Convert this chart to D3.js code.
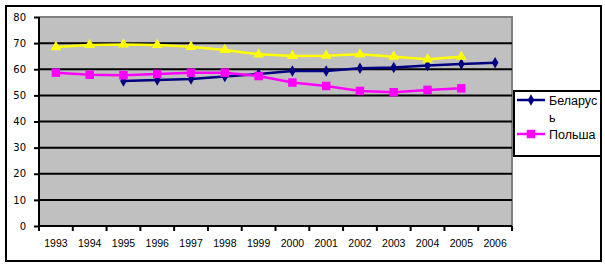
<!DOCTYPE html>
<html>
<head>
<meta charset="utf-8">
<script src="https://cdn.jsdelivr.net/npm/d3@7"></script>
<style>
  body { margin: 0; background: #fff; }
  svg { display: block; }
</style>
</head>
<body>
<svg id="chart" width="605" height="266"></svg>
<script>
// Values.
const years = ['1993', '1994', '1995', '1996', '1997', '1998', '1999',
  '2000', '2001', '2002', '2003', '2004', '2005', '2006'];
const belarus = [null, null, 55.5, 55.9, 56.3, 57.2, 58.2, 59.3, 59.3, 60.4, 60.7, 61.4, 62.0, 62.5];
const poland = [58.7, 57.9, 57.7, 58.2, 58.7, 58.7, 57.4, 54.9, 53.6, 51.7, 51.2, 52.1, 52.7, null];
const third = [68.5, 69.3, 69.5, 69.3, 68.6, 67.4, 65.7, 65.1, 65.2, 65.7, 64.8, 63.8, 64.8, null];
const yTicks = [0, 10, 20, 30, 40, 50, 60, 70, 80];
const legendNames = ['Беларусь', 'Польша'];

const svg = d3.select('#chart');
const plot = { left: 39, right: 512, top: 17, bottom: 226 };

// outer frame
svg.append('rect')
  .attr('x', 6).attr('y', 6).attr('width', 595).attr('height', 255)
  .attr('fill', '#fff').attr('stroke', '#000').attr('stroke-width', 2);

const x = d3.scaleBand().domain(years).range([plot.left, plot.right]).padding(0);
const y = d3.scaleLinear().domain([0, 80]).range([plot.bottom, plot.top]);
const cx = (d) => x(d) + x.bandwidth() / 2;

// plot background + grey border (top / right)
svg.append('rect')
  .attr('x', plot.left).attr('y', plot.top)
  .attr('width', plot.right - plot.left).attr('height', plot.bottom - plot.top)
  .attr('fill', '#c0c0c0');
svg.append('path')
  .attr('d', `M${plot.left},${plot.top}H${plot.right}V${plot.bottom}`)
  .attr('fill', 'none').attr('stroke', '#808080').attr('stroke-width', 2);

// gridlines
svg.append('g')
  .selectAll('line')
  .data(yTicks.filter((t) => t > 0 && t < 80))
  .join('line')
  .attr('x1', plot.left).attr('x2', plot.right)
  .attr('y1', (d) => y(d)).attr('y2', (d) => y(d))
  .attr('stroke', '#000').attr('stroke-width', 2);

// y axis
const yAxis = svg.append('g')
  .attr('transform', `translate(${plot.left},0)`)
  .call(d3.axisLeft(y).tickValues(yTicks).tickSize(5).tickPadding(8));
yAxis.select('.domain').attr('stroke', '#000').attr('stroke-width', 2).attr('d', `M0,${plot.top}V${plot.bottom}`);
yAxis.selectAll('.tick line').attr('stroke', '#000').attr('stroke-width', 2);
yAxis.selectAll('.tick text')
  .attr('font-family', 'DejaVu Sans, sans-serif').attr('font-size', 10).attr('fill', '#000');

// x axis: labels centred in bands, ticks on band boundaries
const xAxis = svg.append('g')
  .attr('transform', `translate(0,${plot.bottom})`)
  .call(d3.axisBottom(x).tickSize(0).tickPadding(14));
xAxis.select('.domain').attr('stroke', '#000').attr('stroke-width', 2).attr('d', `M${plot.left},0H${plot.right}`);
xAxis.selectAll('.tick text')
  .attr('font-family', 'Liberation Sans, Arial, sans-serif').attr('font-size', 10.5).attr('fill', '#000');
xAxis.append('g')
  .selectAll('line')
  .data([...years.map((d) => x(d)), plot.right])
  .join('line')
  .attr('x1', (d) => d).attr('x2', (d) => d)
  .attr('y1', 0).attr('y2', 5)
  .attr('stroke', '#000').attr('stroke-width', 2);

// series
const series = [
  { values: belarus, color: '#000080', symbol: d3.symbolDiamond, size: 38 },
  { values: poland, color: '#ff00ff', symbol: d3.symbolSquare, size: 72 },
  { values: third, color: '#ffff00', symbol: d3.symbolTriangle, size: 50 }
];

const line = d3.line()
  .defined((d) => d.v != null)
  .x((d) => cx(d.year))
  .y((d) => y(d.v));

series.forEach((s) => {
  const pts = years.map((year, i) => ({ year, v: s.values[i] }));
  svg.append('path')
    .datum(pts)
    .attr('d', line)
    .attr('fill', 'none').attr('stroke', s.color).attr('stroke-width', 2.5);
  svg.append('g')
    .selectAll('path')
    .data(pts.filter((d) => d.v != null))
    .join('path')
    .attr('transform', (d) => `translate(${cx(d.year)},${y(d.v)})`)
    .attr('d', d3.symbol(s.symbol, s.size))
    .attr('fill', s.color);
});

// legend
const legend = svg.append('g');
legend.append('rect')
  .attr('x', 514).attr('y', 91).attr('width', 87).attr('height', 65)
  .attr('fill', '#fff').attr('stroke', '#000').attr('stroke-width', 2);

const legendRows = [
  { name: legendNames[0], s: series[0], y: 100, lines: [legendNames[0].slice(0, 7), legendNames[0].slice(7)] },
  { name: legendNames[1], s: series[1], y: 134, lines: [legendNames[1]] }
];
legendRows.forEach((r) => {
  legend.append('line')
    .attr('x1', 517).attr('x2', 545).attr('y1', r.y).attr('y2', r.y)
    .attr('stroke', r.s.color).attr('stroke-width', 2.5);
  legend.append('path')
    .attr('transform', `translate(531,${r.y})`)
    .attr('d', d3.symbol(r.s.symbol, r.s.size))
    .attr('fill', r.s.color);
  const t = legend.append('text')
    .attr('x', 549).attr('y', r.y + 4.5)
    .attr('font-family', 'Liberation Sans, Arial, sans-serif').attr('font-size', 12.5).attr('fill', '#000');
  r.lines.forEach((ln, i) => {
    t.append('tspan').attr('x', 549).attr('dy', i === 0 ? 0 : 17).text(ln);
  });
});
</script>
</body>
</html>
